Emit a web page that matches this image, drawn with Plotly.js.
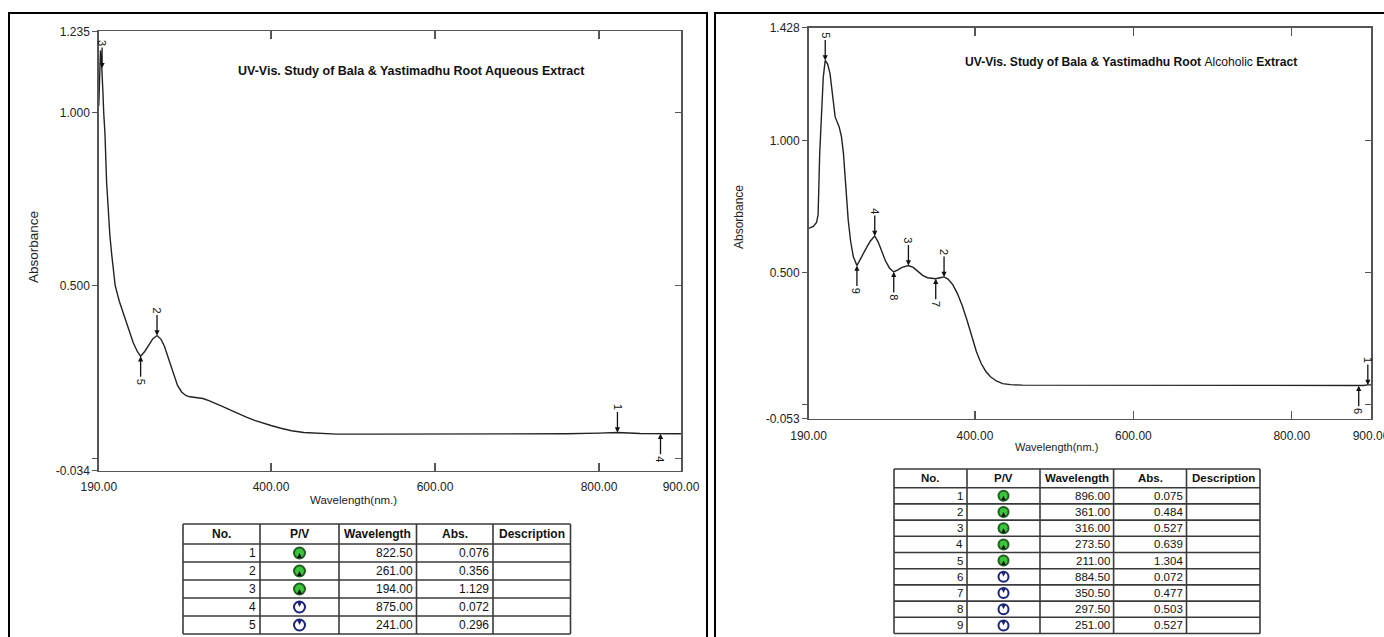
<!DOCTYPE html>
<html>
<head>
<meta charset="utf-8">
<script src="https://cdn.plot.ly/plotly-3.0.1.min.js"></script>
<style>html,body{margin:0;padding:0;background:#fff;}#chart{width:1384px;height:637px;}</style>
</head>
<body>
<div id="chart"></div>
<script>
// ---------- Aqueous extract spectrum (left) ----------
const aqWavelength = [190,191,192,193,194,195,196,197.5,199.5,201.5,203.5,206,210,215,220,226,232,237,241,246,251,256,261,266,270,275,281,286,291,296,301,308,317,325,334,342,350,360,370,380,390,400,412,425,440,460,480,520,580,640,700,760,800,822.5,850,875,900];
const aqAbsorbance = [1.02,1.14,1.18,1.165,1.129,1.06,1.00,0.94,0.80,0.71,0.645,0.585,0.50,0.455,0.42,0.375,0.335,0.31,0.296,0.31,0.33,0.347,0.356,0.345,0.325,0.29,0.245,0.212,0.193,0.183,0.179,0.177,0.174,0.167,0.159,0.150,0.141,0.130,0.120,0.111,0.103,0.096,0.088,0.081,0.076,0.073,0.071,0.071,0.071,0.071,0.071,0.072,0.074,0.076,0.073,0.072,0.072];

// ---------- Alcoholic extract spectrum (right) ----------
const alWavelength = [190,196,200,202,204,206.5,208.5,211,214,217,221,223.5,228.5,231.5,234,236,238,240,243,246.5,251,255,259,264,268,273.5,278,282,287,292,297.5,302,308,316,322,328,334,340,345,350.5,356,361,366,372,378,384,390,396,402,408,414,420,427,435,445,460,500,600,700,800,850,884.5,890,896,900];
const alAbsorbance = [0.668,0.675,0.69,0.72,0.95,1.14,1.24,1.304,1.29,1.255,1.154,1.09,1.053,1.015,0.952,0.864,0.763,0.70,0.62,0.56,0.527,0.55,0.575,0.60,0.62,0.639,0.615,0.586,0.545,0.518,0.503,0.51,0.52,0.527,0.52,0.505,0.49,0.481,0.478,0.477,0.481,0.484,0.476,0.455,0.42,0.375,0.32,0.26,0.20,0.155,0.125,0.105,0.09,0.08,0.076,0.074,0.074,0.074,0.074,0.074,0.073,0.072,0.073,0.075,0.075];

// ---------- Peak / valley tables ----------
const aqNo = [1,2,3,4,5];
const aqPV = ['P','P','P','V','V'];
const aqPeakWl = [822.50,261.00,194.00,875.00,241.00];
const aqPeakAbs = [0.076,0.356,1.129,0.072,0.296];

const alNo = [1,2,3,4,5,6,7,8,9];
const alPV = ['P','P','P','P','P','V','V','V','V'];
const alPeakWl = [896.00,361.00,316.00,273.50,211.00,884.50,350.50,297.50,251.00];
const alPeakAbs = [0.075,0.484,0.527,0.639,1.304,0.072,0.477,0.503,0.527];

const tableHeader = ['No.','P/V','Wavelength','Abs.','Description'];

// ---------- Axis ticks ----------
const xTickVals = [190,400,600,800,900];
const xTickText = ['190.00','400.00','600.00','800.00','900.00'];
const aqYTickVals = [-0.034,0,0.5,1.0,1.235];
const aqYTickText = ['-0.034','','0.500','1.000','1.235'];
const alYTickVals = [-0.053,0,0.5,1.0,1.428];
const alYTickText = ['-0.053','','0.500','1.000','1.428'];

const aqTitle = '<b>UV-Vis. Study of Bala &amp; Yastimadhu Root Aqueous Extract</b>';
const alTitle = '<b>UV-Vis. Study of Bala &amp; Yastimadhu Root </b>Alcoholic<b> Extract</b>';

// ---------- helpers ----------
const W = 1384, H = 637;
const px = v => v / W;
const py = v => 1 - v / H;
const FONT = '"Liberation Sans", Arial, sans-serif';
const AX = '#555';

const traces = [];
const annotations = [];
const shapes = [];

function spectrum(xs, ys, xa, ya) {
  return {type:'scatter', mode:'lines', x: xs, y: ys, xaxis: xa, yaxis: ya,
          line:{color:'#222', width:1.4}, hoverinfo:'skip', showlegend:false};
}

// Table drawn on a pixel-scaled helper axis pair (x3 / y5)
function pvTable(no, pv, wl, ab, geo) {
  const cols = geo.cols;                // column boundaries (px)
  const n = no.length;
  const rowsY = [geo.top, geo.top + geo.hh];
  for (let i = 0; i < n; i++) rowsY.push(rowsY[rowsY.length - 1] + geo.rh);
  const bottom = rowsY[rowsY.length - 1];
  const ln = {color:'#3a3a3a', width:1.6};
  rowsY.forEach(y => shapes.push({type:'line', xref:'x3', yref:'y5', x0: cols[0], x1: cols[cols.length-1], y0: y, y1: y, line: ln}));
  cols.forEach(x => shapes.push({type:'line', xref:'x3', yref:'y5', x0: x, x1: x, y0: geo.top, y1: bottom, line: ln}));
  const mid = i => (cols[i] + cols[i+1]) / 2;
  tableHeader.forEach((h, c) => annotations.push({xref:'x3', yref:'y5', x: mid(c), y: geo.top + geo.hh / 2,
    text: h, showarrow:false, xanchor:'center', yanchor:'middle',
    font:{family: FONT, size: geo.fs, color:'#111', weight:'bold'}}));
  const cellFont = {family: FONT, size: geo.fs, color:'#111'};
  const iconX = [], iconY = [], iconFill = [], iconLine = [], arrowSym = [], arrowCol = [];
  for (let i = 0; i < n; i++) {
    const yc = rowsY[i + 1] + geo.rh / 2;
    const vals = [String(no[i]), null, wl[i].toFixed(2), ab[i].toFixed(3)];
    [0, 2, 3].forEach(c => annotations.push({xref:'x3', yref:'y5', x: cols[c+1] - 2, y: yc,
      text: vals[c], showarrow:false, xanchor:'right', yanchor:'middle', font: cellFont}));
    iconX.push(mid(1)); iconY.push(yc);
    const isPeak = pv[i] === 'P';
    iconFill.push(isPeak ? '#3cc43c' : '#ffffff');
    iconLine.push(isPeak ? '#1f5f1f' : '#1b237a');
    arrowSym.push(isPeak ? 'arrow-up' : 'arrow-down');
    arrowCol.push(isPeak ? '#111' : '#1b237a');
  }
  traces.push({type:'scatter', mode:'markers', x: iconX, y: iconY, xaxis:'x3', yaxis:'y5',
    marker:{symbol:'circle', size: geo.icon, color: iconFill, line:{color: iconLine, width: 2}},
    hoverinfo:'skip', showlegend:false});
  traces.push({type:'scatter', mode:'markers', x: iconX, y: iconY, xaxis:'x3', yaxis:'y5',
    marker:{symbol: arrowSym, size: geo.icon * 0.45, color: arrowCol, line:{width:0}},
    hoverinfo:'skip', showlegend:false});
}

function markers(no, pv, wl, ab, xa, ya) {
  return no.map((k, i) => ({
    x: wl[i], y: ab[i], xref: xa, yref: ya, text: String(k), textangle: 90,
    showarrow: true, arrowhead: 2, arrowsize: 0.8, arrowwidth: 1.3, arrowcolor:'#111',
    ax: 0, ay: pv[i] === 'P' ? -25 : 25, standoff: 0,
    font:{family: FONT, size:11, color:'#111'}
  }));
}

traces.push(spectrum(aqWavelength, aqAbsorbance, 'x', 'y'));
traces.push(spectrum(alWavelength, alAbsorbance, 'x2', 'y2'));
traces.push({type:'scatter', x:[null], y:[null], xaxis:'x', yaxis:'y3', showlegend:false, hoverinfo:'skip'});
traces.push({type:'scatter', x:[null], y:[null], xaxis:'x2', yaxis:'y4', showlegend:false, hoverinfo:'skip'});

pvTable(aqNo, aqPV, aqPeakWl, aqPeakAbs,
  {cols:[183,260,339,416.5,493,570.5], top:524, hh:20, rh:18, fs:12, icon:11});
pvTable(alNo, alPV, alPeakWl, alPeakAbs,
  {cols:[894,967,1040,1113.6,1186.5,1260], top:469, hh:18.7, rh:16.2, fs:11.5, icon:10});

const tickFont = {family: FONT, size:12, color:'#222'};
function xAxis(dom, anchor) {
  return {domain: dom, anchor: anchor, range:[190,900], tickvals: xTickVals, ticktext: xTickText,
          ticks:'inside', ticklen:8, tickwidth:1.2, tickcolor: AX, showline:true, linecolor: AX, linewidth:1.5,
          mirror:'ticks', showgrid:false, zeroline:false, tickfont: tickFont, ticklabelstandoff: 5,
          ticklabeloverflow:'allow', fixedrange:true};
}
function yAxis(dom, anchor, rng, tv, tt) {
  return {domain: dom, anchor: anchor, range: rng, tickvals: tv, ticktext: tt,
          ticks:'outside', ticklen:5, tickwidth:1.2, tickcolor: AX, showline:true, linecolor: AX, linewidth:1.5,
          mirror:true, showgrid:false, zeroline:false, tickfont: tickFont, fixedrange:true};
}
function yRight(over, anchor, rng) {
  return {overlaying: over, anchor: anchor, side:'right', range: rng, tickvals:[0,0.5,1.0],
          ticks:'inside', ticklen:6, tickwidth:1.2, tickcolor: AX, showticklabels:false,
          showline:false, showgrid:false, zeroline:false, fixedrange:true};
}

const aqYRange = [-0.034, 1.235];
const alYRange = [-0.053, 1.428];

annotations.push(
  {xref:'paper', yref:'paper', x: px(411), y: py(71), xanchor:'center', yanchor:'middle', text: aqTitle, showarrow:false,
   font:{family: FONT, size:12.5, color:'#111'}},
  {xref:'paper', yref:'paper', x: px(1131), y: py(62), xanchor:'center', yanchor:'middle', text: alTitle, showarrow:false,
   font:{family: FONT, size:12.1, color:'#111'}},
  {xref:'x', yref:'paper', x: 500, y: py(500), xanchor:'center', yanchor:'middle', text:'Wavelength(nm.)', showarrow:false,
   font:{family: FONT, size:11.5, color:'#222'}},
  {xref:'x2', yref:'paper', x: 503, y: py(447), xanchor:'center', yanchor:'middle', text:'Wavelength(nm.)', showarrow:false,
   font:{family: FONT, size:11, color:'#222'}},
  {xref:'paper', yref:'paper', x: px(33), y: py(247), xanchor:'center', yanchor:'middle', text:'Absorbance', textangle:-90, showarrow:false,
   font:{family: FONT, size:13.5, color:'#222'}},
  {xref:'paper', yref:'paper', x: px(739), y: py(217), xanchor:'center', yanchor:'middle', text:'Absorbance', textangle:-90, showarrow:false,
   font:{family: FONT, size:12, color:'#222'}}
);
markers(aqNo, aqPV, aqPeakWl, aqPeakAbs, 'x', 'y').forEach(a => annotations.push(a));
markers(alNo, alPV, alPeakWl, alPeakAbs, 'x2', 'y2').forEach(a => annotations.push(a));

shapes.push(
  {type:'rect', xref:'paper', yref:'paper', x0: px(9), x1: px(707), y0: py(645), y1: py(13),
   line:{color:'#000', width:2}},
  {type:'rect', xref:'paper', yref:'paper', x0: px(715), x1: px(1395), y0: py(645), y1: py(13),
   line:{color:'#000', width:2}}
);

const layout = {
  width: W, height: H, autosize:false, margin:{l:0, r:0, t:0, b:0},
  paper_bgcolor:'#fff', plot_bgcolor:'rgba(0,0,0,0)', showlegend:false,
  xaxis: xAxis([px(98.8), px(681)], 'y'),
  yaxis: yAxis([py(470.5), py(31.4)], 'x', aqYRange, aqYTickVals, aqYTickText),
  yaxis3: yRight('y', 'x', aqYRange),
  xaxis2: xAxis([px(808.6), px(1371)], 'y2'),
  yaxis2: yAxis([py(418.7), py(27.7)], 'x2', alYRange, alYTickVals, alYTickText),
  yaxis4: yRight('y2', 'x2', alYRange),
  xaxis3: {domain:[0,1], range:[0, W], anchor:'y5', visible:false, fixedrange:true},
  yaxis5: {domain:[0,1], range:[H, 0], anchor:'x3', visible:false, fixedrange:true},
  annotations: annotations,
  shapes: shapes
};

Plotly.newPlot('chart', traces, layout, {staticPlot:true, displayModeBar:false});
</script>
</body>
</html>
